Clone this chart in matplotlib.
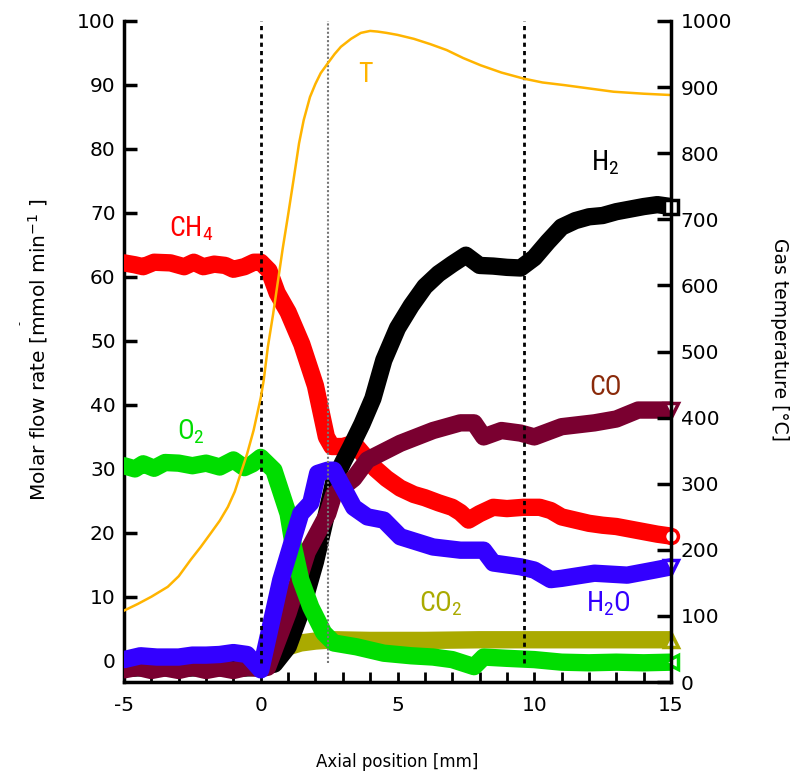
import matplotlib
matplotlib.use("Agg")
import matplotlib.pyplot as plt
from matplotlib.ticker import MultipleLocator

plt.rcParams['axes.unicode_minus'] = False
plt.rcParams['mathtext.default'] = 'regular'

# values
ch4_x = [-5, -4.6, -4.3, -3.9, -3.3, -2.8, -2.45, -2.1, -1.7, -1.3, -1.0, -0.6, -0.25, 0,
         0.3, 0.6, 1.0, 1.5, 2.0, 2.2, 2.4, 2.6, 3.0, 3.4, 3.8, 4.2, 4.6, 5.1, 5.6, 6.0, 6.5,
         7.0, 7.3, 7.6, 8.0, 8.5, 9.0, 9.6, 10.2, 10.6, 11.0, 11.5, 12.0, 12.5, 13.0,
         13.5, 14.0, 14.5, 15]
ch4_y = [62.2, 61.9, 61.6, 62.3, 62.2, 61.6, 62.3, 61.6, 62.0, 61.8, 61.2, 61.6, 62.3, 62.3,
         61.0, 57.5, 54.5, 49.5, 43.0, 39.0, 35.0, 33.5, 33.5, 34.0, 32.0, 30.0, 28.5, 27.0,
         26.0, 25.5, 24.7, 24.0, 23.2, 22.0, 23.0, 24.0, 23.8, 24.0, 24.0, 23.5, 22.5, 22.0,
         21.5, 21.2, 21.0, 20.6, 20.2, 19.8, 19.5]

o2_x = [-5, -4.6, -4.3, -3.9, -3.5, -3.0, -2.5, -2.0, -1.5, -1.0, -0.6, -0.3, 0,
        0.48, 1.0, 1.2, 1.46, 1.83, 2.3, 2.67, 3.5, 4.5, 5.5, 6.3, 7.0, 7.8, 8.15,
        9.0, 10.0, 11.0, 12.0, 13.0, 14.0, 15]
o2_y = [30.5, 30.0, 30.8, 30.1, 31.0, 30.9, 30.5, 30.9, 30.3, 31.4, 30.2, 30.8, 31.8,
        29.8, 23.0, 17.8, 12.7, 8.4, 4.4, 2.8, 2.2, 1.2, 0.8, 0.6, 0.2, -0.9, 0.6,
        0.4, 0.2, -0.2, -0.3, -0.2, -0.3, -0.2]

h2_x = [-5, -4, -3, -2, -1, 0, 0.5, 1.0, 1.5, 2.0, 2.3, 2.67, 3.0, 3.3, 3.7, 4.1, 4.5,
        5.0, 5.5, 6.0, 6.5, 7.0, 7.5, 8.0, 8.5, 9.0, 9.5, 10.0, 10.5, 11.0, 11.5,
        12.0, 12.5, 13.0, 13.5, 14.0, 14.5, 15]
h2_y = [-1.2, -1.0, -1.2, -1.0, -1.2, -1.0, -0.5, 2.2, 8.0, 15.5, 21.0, 28.0, 31.0, 33.5,
        37.0, 41.0, 47.0, 52.0, 55.5, 58.5, 60.5, 62.0, 63.4, 61.8, 61.7, 61.5,
        61.4, 63.0, 65.5, 67.8, 68.8, 69.4, 69.6, 70.2, 70.6, 71.0, 71.3, 71.0]

co_x = [-5, -4.5, -4, -3.5, -3, -2.5, -2, -1.5, -1, -0.5, 0, 0.25, 1.0, 1.7, 2.45, 2.67,
        3.4, 3.9, 5.1, 6.3, 7.3, 7.8, 8.15, 8.8, 9.5, 10.0, 11.0, 12.2, 13.0, 13.8, 15]
co_y = [-1.4, -1.0, -1.5, -1.1, -1.5, -1.0, -1.5, -1.1, -1.5, -1.0, -1.2, -1.0, 7.5, 17.0,
        23.0, 26.0, 28.5, 31.4, 34.0, 36.0, 37.2, 37.2, 35.0, 36.0, 35.6, 35.0, 36.6,
        37.2, 37.8, 39.2, 39.2]

h2o_x = [-5, -4.4, -3.8, -3.0, -2.5, -2.0, -1.5, -1.0, -0.5, 0, 0.73, 1.46, 1.83, 2.08,
         2.45, 2.67, 3.4, 3.9, 4.5, 5.1, 6.3, 7.3, 8.15, 8.5, 9.5, 10.0, 10.6, 11.0,
         12.2, 13.4, 14.4, 15]
h2o_y = [0.2, 0.8, 0.6, 0.6, 0.9, 0.9, 1.0, 1.3, 1.0, -1.4, 12.6, 23.0, 24.7, 29.3,
         29.8, 29.8, 24.0, 22.5, 22.0, 19.4, 17.8, 17.3, 17.3, 15.3, 14.7, 14.2, 12.7,
         12.9, 13.7, 13.4, 14.2, 14.7]

co2_x = [-5, -3, -1, 0, 0.5, 1.0, 1.46, 2.0, 2.67, 4, 6, 8, 10, 12, 14, 15]
co2_y = [0.0, 0.0, 0.0, -0.6, 0.8, 2.2, 2.8, 3.1, 3.3, 3.2, 3.2, 3.3, 3.3, 3.3, 3.3, 3.3]

t_x = [-5, -4.5, -4.0, -3.4, -3.0, -2.56, -2.2, -1.83, -1.5, -1.2, -0.95, -0.73, -0.5,
       -0.26, 0, 0.11, 0.26, 0.45, 0.62, 0.8, 0.99, 1.2, 1.4, 1.57, 1.8, 2.0, 2.19, 2.45,
       2.7, 2.93, 3.3, 3.66, 4.0, 4.27, 4.6, 5.0, 5.6, 6.2, 6.8, 7.4, 8.04, 8.8, 9.6,
       10.3, 11.1, 12.0, 12.9, 14.0, 15]
t_y = [108, 118, 129, 144, 160, 185, 204, 225, 244, 265, 288, 316, 345, 381, 430, 457,
       507, 556, 604, 655, 704, 760, 815, 850, 885, 905, 921, 936, 950, 961, 973, 982,
       985, 984, 982, 979, 973, 965, 956, 944, 933, 922, 913, 907, 903, 898, 893, 890, 888]

fig = plt.figure(figsize=(7.9, 7.79), dpi=100)
ax = fig.add_axes([124 / 790, 1 - 682 / 779, 547 / 790, 661 / 779])
ax2 = ax.twinx()

band = dict(lw=12.5, solid_capstyle='round', solid_joinstyle='round')
series = [
    (co2_x, co2_y, '#aaaa00', '^'),
    (ch4_x, ch4_y, '#ff0000', 'o'),
    (h2_x, h2_y, '#000000', 's'),
    (co_x, co_y, '#7a0030', 'v'),
    (o2_x, o2_y, '#00dd00', '<'),
    (h2o_x, h2o_y, '#3300ff', 'v'),
]
for i, (xs, ys, c, m) in enumerate(series):
    ax.plot(xs, ys, color=c, zorder=2 + i, **band)
    ax.plot(xs[-1], ys[-1], marker=m, ms=10, mfc='white', mec=c, mew=2.5,
            clip_on=False, zorder=20)

# vertical guides
ax.vlines([0, 9.62], -0.4, 100, colors='black', linestyles=(0, (1.5, 1.5)), lw=2, zorder=15)
ax.vlines([2.45], -0.4, 100, colors='#777777', linestyles=(0, (1, 1)), lw=1.5, zorder=15)

ax2.plot(t_x, t_y, color='#ffb400', lw=1.8)

ax.set_xlim(-5, 15)
ax.set_ylim(-3.3, 100)
ax2.set_ylim(0, 1000)

ax.xaxis.set_major_locator(MultipleLocator(5))
ax.xaxis.set_minor_locator(MultipleLocator(1))
ax.yaxis.set_major_locator(MultipleLocator(10))
ax2.yaxis.set_major_locator(MultipleLocator(100))

ax.tick_params(axis='x', which='both', direction='in', length=7, width=2, labelsize=14.5,
               pad=10, top=False)
ax.tick_params(axis='y', direction='in', length=9, width=2.5, labelsize=14.5, pad=6,
               right=False)
ax2.tick_params(axis='y', direction='in', length=10, width=2.5, labelsize=14.5, pad=7)

for a in (ax, ax2):
    a.spines['top'].set_visible(False)
    for s in ('left', 'right', 'bottom'):
        a.spines[s].set_linewidth(2.5)
ax2.spines['left'].set_visible(False)
ax2.spines['bottom'].set_visible(False)
ax.spines['right'].set_visible(False)

ax.set_xlabel('Axial position [mm]', fontsize=12, va='center')
ax.xaxis.set_label_coords(0.5, -(762 - 682) / 661)
ax.set_ylabel('Molar flow rate [mmol min$^{-1}$ ]', fontsize=14.5, va='center')
ax.yaxis.set_label_coords(-(124 - 38) / 547, (682 - 350) / 661)
ax2.set_ylabel('Gas temperature [°C]', fontsize=13.5, rotation=270, va='center')
ax2.yaxis.set_label_coords((779 - 124) / 547, (682 - 339) / 661)
fig.text(20 / 790, 1 - 323 / 779, '-', rotation=90, fontsize=8, ha='center', va='center')

# species labels
lab = dict(fontsize=20, ha='center', va='center',
           family=['Liberation Sans Narrow', 'DejaVu Sans Condensed', 'Roboto Condensed',
                   'DejaVu Sans'])
ax.text(-2.56, 67.5, 'CH$_4$', color='#ff0000', **lab)
ax.text(-2.56, 35.8, 'O$_2$', color='#00dd00', **lab)
ax.text(12.6, 77.8, 'H$_2$', color='#000000', **lab)
ax.text(12.6, 42.7, 'CO', color='#8a2a0a', **lab)
ax.text(6.6, 8.9, 'CO$_2$', color='#aaaa00', **lab)
ax.text(12.7, 8.9, 'H$_2$O', color='#3300ff', **lab)
ax.text(3.84, 91.6, 'T', color='#ffb400', zorder=30, **lab)

fig.savefig('out.png', dpi=100)
